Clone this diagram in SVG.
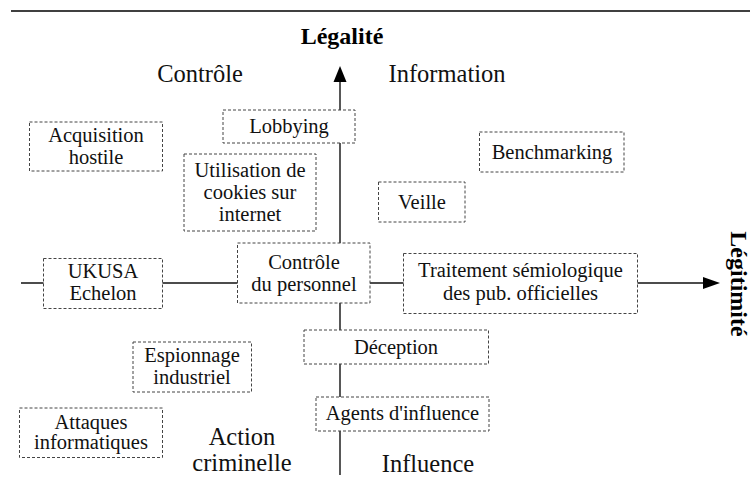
<svg xmlns="http://www.w3.org/2000/svg" width="751" height="491" viewBox="0 0 751 491" font-family="'Liberation Serif', Tinos, 'Nimbus Roman', 'Times New Roman', Times, 'Noto Serif', 'DejaVu Serif', serif">
<style>
.bx{fill:#fff;stroke:#444;stroke-width:1;stroke-dasharray:3 2}
.t{font-family:'Liberation Serif',Tinos,'Nimbus Roman','Times New Roman',Times,'Noto Serif','DejaVu Serif',serif;font-size:20.5px;fill:#111;text-anchor:middle}
.q{font-family:'Liberation Serif',Tinos,'Nimbus Roman','Times New Roman',Times,'Noto Serif','DejaVu Serif',serif;font-size:24.5px;fill:#111;text-anchor:middle}
.b{font-family:'Liberation Serif',Tinos,'Nimbus Roman','Times New Roman',Times,'Noto Serif','DejaVu Serif',serif;font-size:24px;font-weight:bold;fill:#000;text-anchor:middle}
.ax{stroke:#111;stroke-width:1.4;fill:none}
</style>
<rect x="0" y="0" width="751" height="491" fill="#fff"/>
<line x1="11" y1="11" x2="750" y2="11" stroke="#000" stroke-width="1.5"/>
<g id="connectors">
<line class="ax" x1="340" y1="80" x2="340" y2="475"/>
<polygon points="340,66 333.5,82 346.5,82" fill="#000"/>
<line class="ax" x1="21" y1="283" x2="705" y2="283"/>
<polygon points="720,283 703,277 703,289" fill="#000"/>
</g>
<g id="labels">
<text class="b" x="342" y="44">Légalité</text>
<text class="b" transform="translate(731,284) rotate(90)">Légitimité</text>
<text class="q" x="200" y="82">Contrôle</text>
<text class="q" x="447" y="82">Information</text>
<text class="q" x="242" y="445">Action</text>
<text class="q" x="242" y="471">criminelle</text>
<text class="q" x="428" y="472">Influence</text>
</g>
<g id="lobbying"><rect class="bx" x="223" y="110" width="132" height="33"/><text class="t" x="289" y="133">Lobbying</text></g>
<g id="acquisition"><rect class="bx" x="29.5" y="122" width="133" height="49"/><text class="t" x="96" y="141.5">Acquisition</text><text class="t" x="96" y="163.5">hostile</text></g>
<g id="cookies"><rect class="bx" x="184" y="154" width="132" height="77"/><text class="t" x="250" y="176.5">Utilisation de</text><text class="t" x="250" y="198.5">cookies sur</text><text class="t" x="250" y="220.5">internet</text></g>
<g id="benchmarking"><rect class="bx" x="479.5" y="132" width="144.5" height="40"/><text class="t" x="552" y="158.5">Benchmarking</text></g>
<g id="veille"><rect class="bx" x="378.5" y="182" width="86.5" height="40"/><text class="t" x="422" y="208.5">Veille</text></g>
<g id="ukusa"><rect class="bx" x="43.5" y="258.5" width="119" height="50"/><text class="t" x="103" y="278">UKUSA</text><text class="t" x="103" y="300">Echelon</text></g>
<g id="controle-personnel"><rect class="bx" x="237.5" y="243" width="132.5" height="60"/><text class="t" x="304" y="268.5">Contrôle</text><text class="t" x="304" y="290.5">du personnel</text></g>
<g id="traitement"><rect class="bx" x="403.5" y="253.5" width="234" height="60"/><text class="t" x="520.5" y="277">Traitement sémiologique</text><text class="t" x="520.5" y="300">des pub. officielles</text></g>
<g id="deception"><rect class="bx" x="304" y="330" width="184.5" height="34"/><text class="t" x="396" y="353.5">Déception</text></g>
<g id="agents"><rect class="bx" x="316" y="397" width="173" height="34"/><text class="t" x="402.5" y="420">Agents d'influence</text></g>
<g id="espionnage"><rect class="bx" x="133" y="342" width="118.5" height="50"/><text class="t" x="192" y="362">Espionnage</text><text class="t" x="192" y="383.5">industriel</text></g>
<g id="attaques"><rect class="bx" x="19.5" y="408" width="143" height="49.5"/><text class="t" x="91" y="428.5">Attaques</text><text class="t" x="91" y="448.5">informatiques</text></g>
</svg>
